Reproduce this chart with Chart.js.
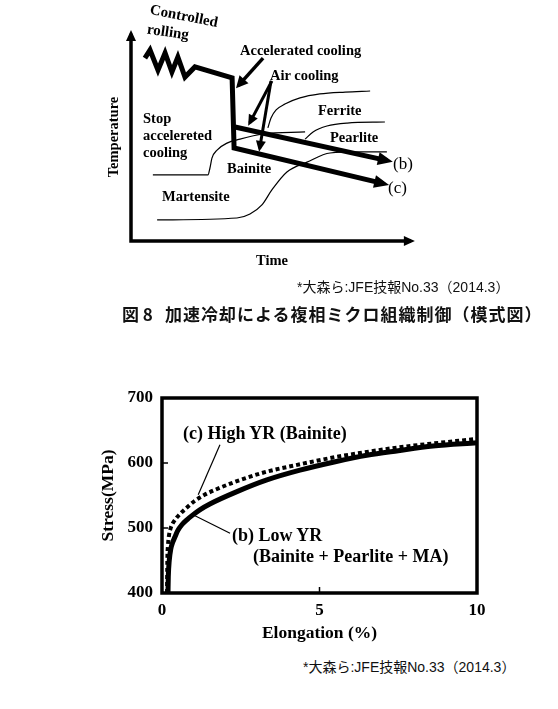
<!DOCTYPE html>
<html><head><meta charset="utf-8">
<script src="https://cdn.jsdelivr.net/npm/chart.js@4.4.1/dist/chart.umd.min.js"></script>
<style>
html,body{margin:0;padding:0;background:#fff;width:558px;height:709px;overflow:hidden;position:relative}
canvas{position:absolute;left:0}
.t{position:absolute;white-space:nowrap;font-family:'Liberation Serif','Times New Roman',serif;font-weight:bold;color:#000;line-height:1;transform:translateY(-50%)}
.c{transform:translate(-50%,-50%)}
.src{position:absolute;white-space:nowrap;font-family:'Liberation Sans',Arial,'Noto Sans CJK JP',sans-serif;font-size:14px;color:#111;line-height:1;transform:translateY(-50%)}
.cap{position:absolute;white-space:nowrap;font-family:'Noto Sans CJK JP',sans-serif;font-weight:bold;font-size:17px;letter-spacing:1px;color:#111;line-height:1;transform:translateY(-50%)}
</style></head><body>
<canvas id="top" width="558" height="270" style="top:0"></canvas>
<canvas id="bot" width="558" height="278" style="top:370px"></canvas>

<div class="t c" style="left:184px;top:16px;font-size:15px;transform:translate(-50%,-50%) rotate(11deg)">Controlled</div>
<div class="t c" style="left:168px;top:32px;font-size:15px;transform:translate(-50%,-50%) rotate(8deg)">rolling</div>
<div class="t" style="left:240px;top:50px;font-size:14.5px">Accelerated cooling</div>
<div class="t" style="left:270px;top:75px;font-size:14.5px">Air cooling</div>
<div class="t" style="left:318px;top:110px;font-size:14.5px">Ferrite</div>
<div class="t" style="left:330px;top:137px;font-size:14.5px">Pearlite</div>
<div class="t" style="left:143px;top:118px;font-size:14.5px">Stop</div>
<div class="t" style="left:143px;top:135px;font-size:14.5px">accelereted</div>
<div class="t" style="left:143px;top:152px;font-size:14.5px">cooling</div>
<div class="t" style="left:227px;top:168px;font-size:14.5px">Bainite</div>
<div class="t" style="left:162px;top:196px;font-size:14.5px">Martensite</div>
<div class="t" style="left:393px;top:163px;font-size:17px;font-weight:normal">(b)</div>
<div class="t" style="left:388px;top:187px;font-size:17px;font-weight:normal">(c)</div>
<div class="t c" style="left:113px;top:137px;font-size:14.5px;transform:translate(-50%,-50%) rotate(-90deg)">Temperature</div>
<div class="t c" style="left:272px;top:260px;font-size:14.5px">Time</div>

<div class="src" style="left:297px;top:287px">*大森ら:JFE技報No.33（2014.3）</div>
<div class="cap" style="left:122px;top:313px"><span style="display:inline-block;width:43px;letter-spacing:0">図 8</span>加速冷却による複相ミクロ組織制御（模式図）</div>

<div class="t" style="left:183px;top:433px;font-size:18px">(c) High YR (Bainite)</div>
<div class="t" style="left:232px;top:535px;font-size:18px">(b) Low YR</div>
<div class="t" style="left:253px;top:556px;font-size:18px">(Bainite + Pearlite + MA)</div>
<div class="src" style="left:303px;top:667px">*大森ら:JFE技報No.33（2014.3）</div>

<script>
// ---------- Figure 8 schematic: time (x) vs temperature (y), arbitrary units 0-100 ----------
const axisPath        = [[0,98.2],[0,0],[98.6,0]];
const processMain     = [[4.9,86.7],[6.7,90.5],[9.5,81.0],[12.0,89.1],[14.4,80.1],[16.5,87.2],[19.0,77.7],[22.5,82.5],[35.6,77.3],[36.3,44.1],[88.9,27.2]];
const processB        = [[36.6,54.0],[90.2,38.1]];
const arrowAccel      = [[46.5,86.7],[37.8,73.6]];
const arrowAir1       = [[49.6,75.8],[41.8,56.0]];
const arrowAir2       = [[49.3,75.8],[45.3,43.8]];
const ferriteLine     = [[48.2,53.6],[49.3,58.3],[51.1,62.1],[54.2,64.9],[59.5,67.8],[66.5,69.7],[75.4,70.6],[84.2,71.1]];
const pearliteLine    = [[61.3,48.3],[64.1,51.7],[69.0,54.5],[76.1,55.9],[89.4,56.4]];
const bainiteLine     = [[7.7,31.3],[27.1,31.3],[27.8,34.6],[28.5,39.3],[30.3,43.1],[33.8,46.4],[38.4,48.3],[46.5,50.7],[61.3,51.7]];
const martensiteLine  = [[9.2,10.0],[37.3,10.9],[41.9,12.8],[46.1,17.1],[49.6,24.2],[54.9,32.7],[62.0,37.4],[70.1,41.7],[80.6,42.2],[90.1,42.2]];

// ---------- Stress–strain curves ----------
const elongB  = [0.19,0.20,0.23,0.28,0.34,0.41,0.50,0.63,0.80,0.95,1.20,1.52,2.38,3.33,4.38,5.5,6.5,7.5,8.6,10];
const stressB = [400, 425, 450, 468, 478, 486, 496, 505, 513, 519, 528, 537, 556, 574, 589, 602,612,619,626,631];
const elongC  = [0.16,0.17,0.19,0.22,0.27,0.34,0.45,0.60,0.80,1.05,1.35,1.70,2.32,3.2,4.38,5.5,6.5,7.5,8.6,10];
const stressC = [400, 450, 473, 488, 499, 507, 515, 523, 532, 542, 551, 559, 571, 585,598, 609,617,624,630,637];
const leaderC = [[1.84,628],[1.15,551]];
const leaderB = [[1.00,520],[2.16,492]];
const xTicks  = [0,5,10];
const yTicks  = [400,500,600,700];
const xInnerTicks = [5];
const yInnerTicks = [500,600];

Chart.defaults.font.family = "'Liberation Serif','Times New Roman',serif";
Chart.defaults.color = '#000';

const pts = a => a.map(([x,y]) => ({x,y}));

const arrowPlugin = {
  id:'arrows',
  afterDatasetsDraw(chart){
    const ctx = chart.ctx;
    chart.data.datasets.forEach((ds,i)=>{
      const el = chart.getDatasetMeta(i).data;
      const head = (p,q,h)=>{
        const dx=p.x-q.x, dy=p.y-q.y, L=Math.hypot(dx,dy), ux=dx/L, uy=dy/L;
        const ext = ds.borderWidth*h.len/(2*h.half);
        const tx=p.x+ux*ext, ty=p.y+uy*ext;
        const bx=tx-ux*h.len, by=ty-uy*h.len;
        ctx.save();
        ctx.beginPath();
        ctx.moveTo(tx,ty);
        ctx.lineTo(bx-uy*h.half, by+ux*h.half);
        ctx.lineTo(bx+uy*h.half, by-ux*h.half);
        ctx.closePath();
        ctx.fillStyle='#000'; ctx.fill();
        ctx.restore();
      };
      if (ds.headEnd) head(el[el.length-1], el[el.length-2], ds.headEnd);
      if (ds.headStart) head(el[0], el[1], ds.headStart);
    });
  }
};

const line = (arr, w, extra={}) => Object.assign({
  data: pts(arr), borderColor:'#000', borderWidth:w, pointRadius:0, fill:false,
  clip:false, tension:0, borderJoinStyle:'miter', borderCapStyle:'butt'
}, extra);

new Chart(document.getElementById('top'), {
  type:'line',
  data:{datasets:[
    line(axisPath, 3.5, {headStart:{len:11,half:5}, headEnd:{len:11,half:5}}),
    line(processMain, 5, {headEnd:{len:15,half:6.5}}),
    line(processB, 5, {headEnd:{len:15,half:6.5}}),
    line(arrowAccel, 3.5, {headEnd:{len:12,half:6}}),
    line(arrowAir1, 3, {headEnd:{len:11,half:5}}),
    line(arrowAir2, 3, {headEnd:{len:11,half:5}}),
    line(ferriteLine, 1.2, {cubicInterpolationMode:'monotone'}),
    line(pearliteLine, 1.2, {cubicInterpolationMode:'monotone'}),
    line(bainiteLine, 1.2, {cubicInterpolationMode:'monotone'}),
    line(martensiteLine, 1.2, {cubicInterpolationMode:'monotone'})
  ]},
  options:{
    responsive:false, animation:false, devicePixelRatio:1,
    layout:{padding:{left:131,right:143,top:30,bottom:29}},
    scales:{
      x:{type:'linear',min:0,max:100,display:false},
      y:{type:'linear',min:0,max:100,display:false}
    },
    plugins:{legend:{display:false},tooltip:{enabled:false}}
  },
  plugins:[arrowPlugin]
});

const framePlugin = {
  id:'frame',
  afterDraw(chart){
    const {ctx, chartArea:a, scales:{x,y}} = chart;
    ctx.save();
    ctx.strokeStyle='#000';
    ctx.lineWidth=3.5;
    ctx.strokeRect(a.left, a.top, a.right-a.left, a.bottom-a.top);
    ctx.lineWidth=1.5;
    ctx.beginPath();
    yInnerTicks.forEach(v=>{const py=y.getPixelForValue(v); ctx.moveTo(a.left,py); ctx.lineTo(a.left+6,py);});
    xInnerTicks.forEach(v=>{const px=x.getPixelForValue(v); ctx.moveTo(px,a.bottom); ctx.lineTo(px,a.bottom-6);});
    ctx.stroke();
    ctx.restore();
  }
};

const bold = s => ({size:s, weight:'bold', family:"'Liberation Serif','Times New Roman',serif"});

new Chart(document.getElementById('bot'), {
  type:'line',
  data:{datasets:[
    {data: elongC.map((v,i)=>({x:v,y:stressC[i]})), borderColor:'#000', borderWidth:4, borderDash:[4,3],
     borderCapStyle:'butt', cubicInterpolationMode:'monotone', pointRadius:0, fill:false, clip:false},
    {data: elongB.map((v,i)=>({x:v,y:stressB[i]})), borderColor:'#000', borderWidth:5,
     cubicInterpolationMode:'monotone', pointRadius:0, fill:false, clip:false},
    line(leaderC, 1.2),
    line(leaderB, 1.2)
  ]},
  options:{
    responsive:false, animation:false, devicePixelRatio:1,
    layout:{padding:{left:0,right:81,top:28,bottom:0}},
    scales:{
      x:{type:'linear',min:0,max:10,
         afterBuildTicks:s=>{s.ticks = xTicks.map(v=>({value:v}));},
         afterFit:s=>{s.height=55;},
         grid:{display:false,drawTicks:false}, border:{display:false},
         ticks:{padding:7,color:'#000',font:bold(17),maxRotation:0},
         title:{display:true,text:'Elongation (%)',color:'#000',font:bold(17.5),padding:{top:0,bottom:4}}},
      y:{type:'linear',min:400,max:700,
         afterBuildTicks:s=>{s.ticks = yTicks.map(v=>({value:v}));},
         afterFit:s=>{s.width=162;},
         grid:{display:false,drawTicks:false}, border:{display:false},
         ticks:{padding:9,color:'#000',font:bold(17)},
         title:{display:true,text:'Stress(MPa)',color:'#000',font:bold(17.5),padding:{top:98,bottom:0}}}
    },
    plugins:{legend:{display:false},tooltip:{enabled:false}}
  },
  plugins:[framePlugin]
});
</script>
</body></html>
